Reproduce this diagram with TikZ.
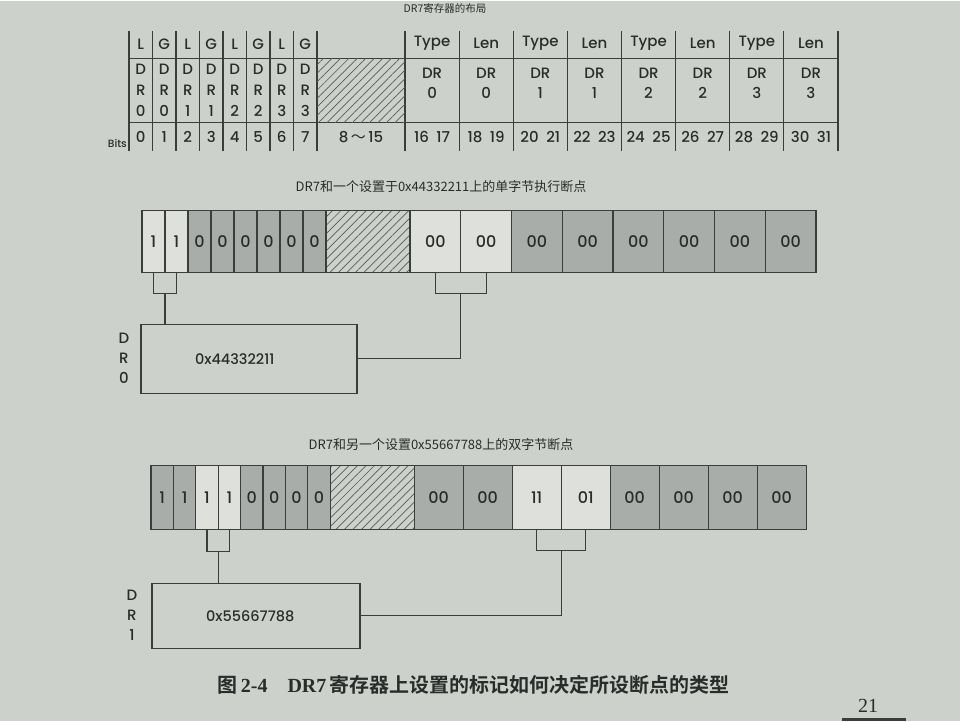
\documentclass[tikz,border=0pt]{standalone}
\usepackage{fontspec}
\setmainfont{Poppins}[UprightFont={* Medium}]
\newfontfamily\cjk[BoldFont={Noto Sans CJK SC Bold}]{Noto Sans CJK SC}
\newfontfamily\capserif{Liberation Serif}
\usetikzlibrary{positioning, calc, patterns.meta}
\definecolor{pagebg}{HTML}{CDD1CC}
\definecolor{celllight}{HTML}{DDE0DB}
\definecolor{celldark}{HTML}{A9ADA9}
\definecolor{inkline}{HTML}{3A3D3B}
\definecolor{inktext}{HTML}{2A2C2B}

\begin{document}
\begin{tikzpicture}[x=1pt, y=-1pt,
  tabtxt/.style={inner sep=0pt, text=inktext, font=\fontsize{15}{15}\selectfont},
  tabstack/.style={tabtxt, align=center, font=\fontsize{15}{21}\selectfont},
  cell/.style={rectangle, draw=inkline, line width=1.1pt, inner sep=0pt, minimum height=62pt, text=inktext, font=\fontsize{16}{16}\selectfont},
  hatchcell/.style={cell, pattern={Lines[angle=45, distance=6pt, line width=0.7pt]}, pattern color=inkline!85},
  regbox/.style={rectangle, draw=inkline, line width=1.1pt, inner xsep=54pt, align=left, text=inktext, font=\fontsize{14.5}{14.5}\selectfont},
  regtag/.style={inner sep=0pt, align=center, text=inktext, font=\fontsize{15}{20}\selectfont},
  figtitle/.style={text=inktext, font=\cjk\fontsize{13}{13}\selectfont},
  link/.style={draw=inkline, line width=1.1pt}
]
  % Page
  \fill[pagebg] (0,0) rectangle (960,720);

  % DR7 layout table
  \node[figtitle, font=\cjk\fontsize{10.5}{10.5}\selectfont] (layouttitle) at (445,7) {DR7寄存器的布局};
  \foreach \k in {0,...,8} \draw[link] ({129+23.5*\k},30) -- ({129+23.5*\k},150);
  \foreach \k in {0,...,8} \draw[link] ({405+54.125*\k},30) -- ({405+54.125*\k},150);
  \draw[link] (129,57) -- (838,57);
  \draw[link] (129,121) -- (838,121);
  \node[hatchcell, draw=none, minimum width=88pt, minimum height=64pt] (fres) at (361,89) {};
  \node[tabtxt] (fresbits) at (361,136) {8\,{\cjk ～}\,15};
  \node[tabtxt, anchor=east, font=\fontsize{10.5}{10.5}\selectfont] (bitslabel) at (127,142) {Bits};
  \foreach \k/\lg/\n in {0/L/0,1/G/0,2/L/1,3/G/1,4/L/2,5/G/2,6/L/3,7/G/3}{
    \node[tabtxt] (flag\k) at ({140.75+23.5*\k},43) {\lg};
    \node[tabstack] (fdr\k) at ({140.75+23.5*\k},89) {D\\R\\\n};
    \node[tabtxt] (fbit\k) at ({140.75+23.5*\k},136) {\k};
  }
  \foreach \k/\fld/\n/\lo/\hi in {0/Type/0/16/17,1/Len/0/18/19,2/Type/1/20/21,3/Len/1/22/23,4/Type/2/24/25,5/Len/2/26/27,6/Type/3/28/29,7/Len/3/30/31}{
    \node[tabtxt] (ffld\k) at ({432.06+54.125*\k},42) {\fld};
    \node[tabstack, font=\fontsize{15}{20}\selectfont] (freg\k) at ({432.06+54.125*\k},82) {DR\\\n};
    \node[tabtxt] (fbitw\k) at ({432.06+54.125*\k},136) {\lo\enspace\hi};
  }

  % Single byte execute breakpoint on DR0
  \node[figtitle] (singletitle) at (441,185) {DR7和一个设置于0x44332211上的单字节执行断点};
  \foreach \k/\v/\shade in {0/1/celllight,1/1/celllight,2/0/celldark,3/0/celldark,4/0/celldark,5/0/celldark,6/0/celldark,7/0/celldark}
    \node[cell, fill=\shade, minimum width=23pt] (m\k) at ({142+23*(\k+0.5)},240) {\v};
  \node[hatchcell, minimum width=84pt] (mres) at (368,240) {};
  \foreach \k/\shade in {0/celllight,1/celllight,2/celldark,3/celldark,4/celldark,5/celldark,6/celldark,7/celldark}
    \node[cell, fill=\shade, minimum width=50.75pt] (mw\k) at ({410+50.75*(\k+0.5)},240) {00};
  \node[regbox, minimum width=216pt, minimum height=69pt, text width=108pt] (reg0) at (249,357.5) {0x44332211};
  \node[regtag, left=11pt of reg0] (tag0) {D\\R\\0};

  \draw[link] (m0.south) -- ++(0,21) -| (m1.south);
  \coordinate (mhook) at ($(m0.south)!0.5!(m1.south)+(0,21)$);
  \draw[link] (mhook) -- (mhook |- reg0.north);
  \draw[link] (mw0.south) -- ++(0,21) -| (mw1.south);
  \coordinate (mwhook) at ($(mw0.south)!0.5!(mw1.south)+(0,21)$);
  \draw[link] (mwhook) |- (reg0.east);

  % Two byte breakpoint on DR1
  \node[figtitle] (doubletitle) at (441,443) {DR7和另一个设置0x55667788上的双字节断点};
  \foreach \k/\v/\shade in {0/1/celldark,1/1/celldark,2/1/celllight,3/1/celllight,4/0/celldark,5/0/celldark,6/0/celldark,7/0/celldark}
    \node[cell, fill=\shade, minimum width=22.4pt, minimum height=64pt] (b\k) at ({151+22.4*(\k+0.5)},496) {\v};
  \node[hatchcell, minimum width=84pt, minimum height=64pt] (bres) at (372.2,496) {};
  \foreach \k/\v/\shade in {0/00/celldark,1/00/celldark,2/11/celllight,3/01/celllight,4/00/celldark,5/00/celldark,6/00/celldark,7/00/celldark}
    \node[cell, fill=\shade, minimum width=49pt, minimum height=64pt] (bw\k) at ({414.2+49*(\k+0.5)},496) {\v};
  \node[regbox, minimum width=208pt, minimum height=65pt, text width=100pt] (reg1) at (256,614.5) {0x55667788};
  \node[regtag, left=14pt of reg1] (tag1) {D\\R\\1};

  \draw[link] (b2.south) -- ++(0,22) -| (b3.south);
  \coordinate (bhook) at ($(b2.south)!0.5!(b3.south)+(0,22)$);
  \draw[link] (bhook) -- (bhook |- reg1.north);
  \draw[link] (bw2.south) -- ++(0,21) -| (bw3.south);
  \coordinate (bwhook) at ($(bw2.south)!0.5!(bw3.south)+(0,21)$);
  \draw[link] (bwhook) |- (reg1.east);

  % Caption
  \node[text=inktext, font=\fontsize{20}{20}\selectfont, anchor=west] (caption) at (214,684)
    {{\cjk\bfseries 图}\,{\capserif\bfseries 2-4}\quad{\capserif\bfseries DR7}\,{\cjk\bfseries 寄存器上设置的标记如何决定所设断点的类型}};
  \node[text=inktext, font=\capserif\fontsize{20}{20}\selectfont] (pagenum) at (868,705) {21};
  \draw[inkline, line width=3pt] ([xshift=-26pt,yshift=-3pt]pagenum.south) -- ([xshift=38pt,yshift=-3pt]pagenum.south);
\end{tikzpicture}
\end{document}
